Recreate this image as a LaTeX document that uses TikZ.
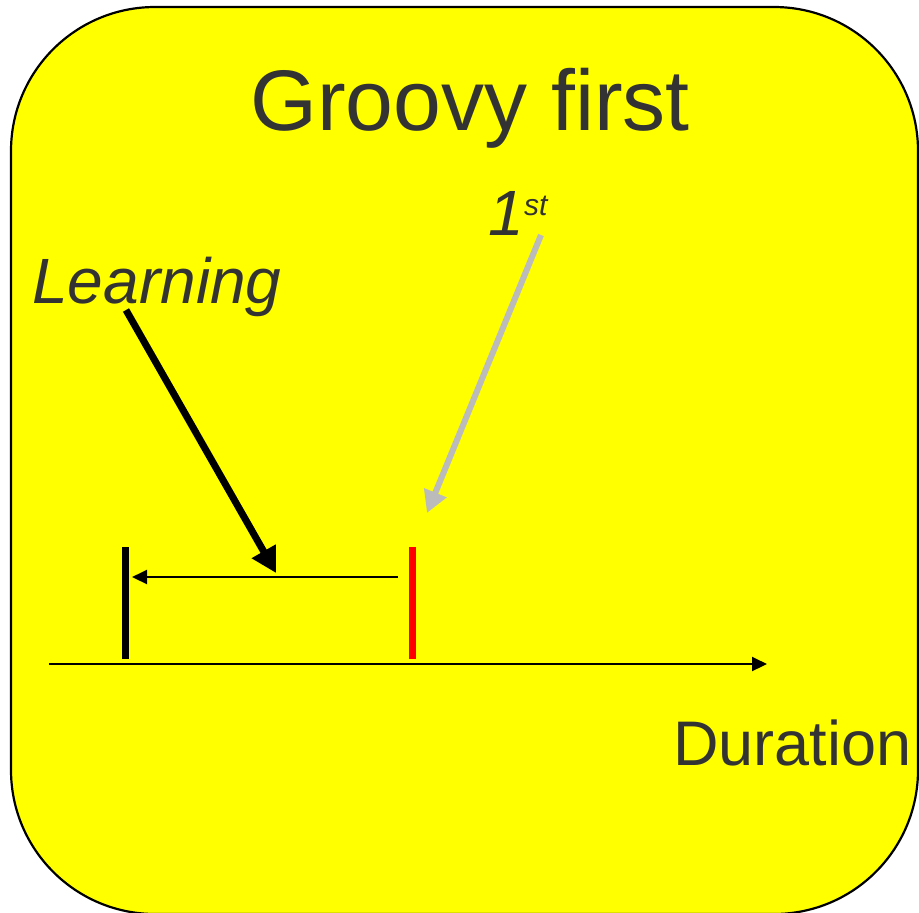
\documentclass[tikz,border=0pt]{standalone}
\usepackage{fontspec}
\setmainfont{Liberation Sans}
\usetikzlibrary{arrows.meta,positioning}
\definecolor{cardyellow}{RGB}{255,255,0}
\definecolor{inkgray}{RGB}{51,51,51}
\definecolor{hintgray}{RGB}{187,187,187}
\definecolor{firstred}{RGB}{255,0,0}

\begin{document}
\begin{tikzpicture}[x=0.5pt,y=-0.5pt,
    lbl/.style={inner sep=0pt,text=inkgray},
    big/.style={font=\fontsize{43}{50}\selectfont},
    mid/.style={font=\fontsize{31.5}{36}\selectfont},
    midit/.style={font=\fontsize{32}{36}\selectfont\itshape},
    tickmark/.style={line width=3.5pt},
    thinarrow/.style={line width=1pt,-{Triangle[length=7.5pt,width=7pt]}}]
  \useasboundingbox (0,0) rectangle (919,912);
  % yellow card
  \draw[fill=cardyellow,line width=1.1pt,rounded corners=72pt] (11,7) rectangle (918,914);
  % texts
  \node[lbl,big,anchor=base] (title) at (470,130) {Groovy first};
  \node[lbl,midit,anchor=base west] (learn) at (32,303) {Learning};
  \node[lbl,midit,anchor=base west] (first) at (488,235)
    {1\raisebox{10pt}{\fontsize{15}{15}\selectfont st}};
  \node[lbl,mid,anchor=base west] (dur) at (673,765) {Duration};
  % axis and the two marks
  \coordinate (axis0) at (49,664);
  \coordinate (axis1) at (767,664);
  \draw[thinarrow] (axis0) -- (axis1);
  \coordinate (startTop) at (125,547);
  \coordinate (startFoot) at (125,659);
  \coordinate (firstTop) at (412.5,547);
  \coordinate (firstFoot) at (412.5,659);
  \draw[tickmark] (startTop) -- (startFoot);
  \draw[tickmark,firstred] (firstTop) -- (firstFoot);
  % span back to the start
  \coordinate (span0) at (398,577);
  \coordinate (span1) at (132,577);
  \draw[thinarrow] (span0) -- (span1);
  % pointers from the labels
  \coordinate (learnFoot) at (126,310);
  \coordinate (learnTip) at (276,573);
  \draw[line width=3.5pt,-{Triangle[length=12.5pt,width=13pt]}] (learnFoot) -- (learnTip);
  \coordinate (firstFoot2) at (541,235);
  \coordinate (firstTip) at (427,513);
  \draw[line width=3pt,hintgray,-{Triangle[length=11pt,width=11.5pt]}] (firstFoot2) -- (firstTip);
\end{tikzpicture}
\end{document}
